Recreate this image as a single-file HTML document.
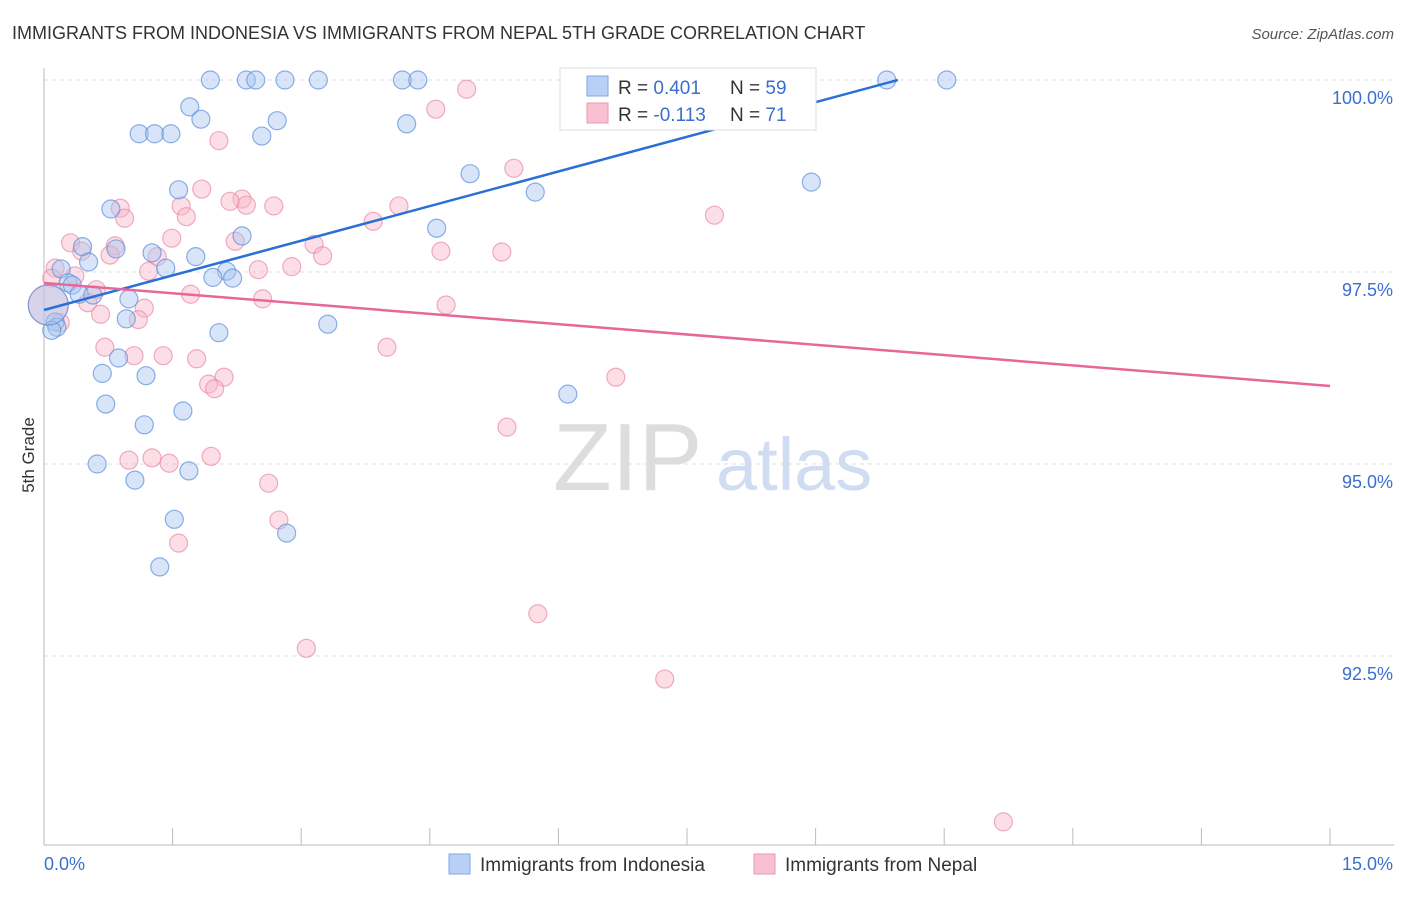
<!DOCTYPE html>
<html><head><meta charset="utf-8"><style>
body{margin:0;background:#fff;font-family:"Liberation Sans",sans-serif;}
svg text{font-family:"Liberation Sans",sans-serif;}
</style></head><body>
<svg id="c" width="1406" height="892">
<text x="12" y="39" font-size="18" fill="#333">IMMIGRANTS FROM INDONESIA VS IMMIGRANTS FROM NEPAL 5TH GRADE CORRELATION CHART</text>
<text x="1394" y="39" font-size="15" fill="#555" text-anchor="end" font-style="italic">Source: ZipAtlas.com</text>
<text x="34" y="455" font-size="17" fill="#333" text-anchor="middle" transform="rotate(-90 34 455)">5th Grade</text>
<g>
<text x="553" y="490" font-size="96" fill="#ddd" font-family="Liberation Serif,serif">ZIP</text>
<text x="716" y="490" font-size="74" fill="#cfdcf2">atlas</text>
</g>
<g id="grid"></g><g id="axes"></g><g id="pts"></g><g id="lines"></g>
<g>
<rect x="560" y="68" width="256" height="62" fill="#fff" stroke="#ddd"/>
<rect x="587" y="76" width="21" height="20" fill="#b8d0f5" stroke="#7fa6e6"/>
<rect x="587" y="103" width="21" height="20" fill="#f8c1d2" stroke="#ec97b2"/>
<text x="618" y="94" font-size="19" fill="#333">R = <tspan fill="#3a6fd0">0.401</tspan></text>
<text x="730" y="94" font-size="19" fill="#333">N = <tspan fill="#3a6fd0">59</tspan></text>
<text x="618" y="121" font-size="19" fill="#333">R = <tspan fill="#3a6fd0">-0.113</tspan></text>
<text x="730" y="121" font-size="19" fill="#333">N = <tspan fill="#3a6fd0">71</tspan></text>
</g>
<g>
<rect x="449" y="854" width="21" height="20" fill="#b8d0f5" stroke="#7fa6e6"/>
<text x="480" y="871" font-size="19" fill="#333">Immigrants from Indonesia</text>
<rect x="754" y="854" width="21" height="20" fill="#f8c1d2" stroke="#ec97b2"/>
<text x="785" y="871" font-size="19" fill="#333">Immigrants from Nepal</text>
</g>
</svg>
<script>
const yTicks=[100,97.5,95,92.5];
const yTickLabels=["100.0%","97.5%","95.0%","92.5%"];
const xTicks=[0,1.5,3,4.5,6,7.5,9,10.5,12,13.5,15];
const xEndLabels=["0.0%","15.0%"];
const indoX=[1.94,2.36,2.47,2.81,3.20,4.18,4.36,9.83,10.53,1.70,1.83,2.72,4.23,1.11,1.29,1.48,2.54,4.97,5.73,8.95,1.57,0.78,4.58,2.31,0.45,0.84,1.26,1.77,0.52,1.42,0.20,2.13,1.97,2.20,0.28,0.33,0.41,0.57,0.99,0.96,0.13,3.31,0.15,0.09,2.04,0.87,0.68,1.19,0.72,6.11,1.62,1.17,0.62,1.69,1.06,1.52,2.83,1.35,0.05];
const indoY=[100,100,100,100,100,100,100,100,100,99.65,99.49,99.47,99.43,99.30,99.30,99.30,99.27,98.78,98.54,98.67,98.57,98.32,98.07,97.97,97.83,97.80,97.75,97.70,97.63,97.55,97.54,97.51,97.43,97.42,97.36,97.33,97.21,97.20,97.15,96.89,96.85,96.82,96.78,96.74,96.71,96.38,96.18,96.15,95.78,95.91,95.69,95.51,95.00,94.91,94.79,94.28,94.10,93.66,97.07];
const nepX=[6.22,6.49,6.33,4.93,4.57,2.04,5.48,1.84,2.31,2.36,2.17,1.60,2.68,4.14,0.89,0.94,1.66,7.82,3.84,1.49,2.23,0.31,3.15,0.83,0.44,0.77,3.25,4.63,5.34,1.32,0.13,2.89,1.22,2.50,0.36,0.09,0.61,1.71,2.55,4.69,0.51,1.17,0.66,1.10,0.19,0.71,4.00,1.05,1.39,1.78,2.10,1.92,1.99,6.67,5.40,0.99,1.26,1.46,1.95,2.62,2.74,1.57,5.76,3.06,7.24,11.19,0.05];
const nepY=[100,100,99.69,99.88,99.62,99.21,98.85,98.58,98.45,98.37,98.42,98.36,98.36,98.36,98.33,98.20,98.22,98.24,98.16,97.94,97.90,97.88,97.86,97.84,97.77,97.72,97.71,97.77,97.76,97.70,97.55,97.57,97.51,97.53,97.45,97.42,97.27,97.21,97.15,97.07,97.10,97.03,96.95,96.88,96.84,96.52,96.52,96.41,96.41,96.37,96.13,96.04,95.98,96.13,95.48,95.05,95.08,95.01,95.10,94.75,94.27,93.97,93.05,92.60,92.20,90.34,97.07];
const indoTrend=[[0,97.005],[9.96,100]];
const nepTrend=[[0,97.357],[15,96.016]];
const NS="http://www.w3.org/2000/svg";
const X=v=>44+v*(1286/15), Y=v=>80+(100-v)*76.8;
function mk(tag,at,parent){const e=document.createElementNS(NS,tag);for(const k in at)e.setAttribute(k,at[k]);document.getElementById(parent).appendChild(e);return e;}
yTicks.forEach((t,i)=>{
 const l=mk('line',{x1:44,x2:1394,y1:Y(t),y2:Y(t),stroke:'#ddd','stroke-dasharray':'4,4'},'grid');
 
 
 const tx=mk('text',{x:1393,y:Y(t)+24,'font-size':18,fill:'#3a6fd0','text-anchor':'end'},'axes');
 tx.textContent=yTickLabels[i];
 
 
});
const ya=mk('line',{x1:44,x2:44,y1:68,y2:845,stroke:'#bbb'},'axes');


const xa=mk('line',{x1:44,x2:1394,y1:845,y2:845,stroke:'#bbb'},'axes');


xTicks.forEach(t=>{
 const l=mk('line',{x1:X(t),x2:X(t),y1:828,y2:845,stroke:'#bbb'},'axes');
 
 
});
const xl0=mk('text',{x:44,y:870,'font-size':18,fill:'#3a6fd0'},'axes');xl0.textContent=xEndLabels[0];


const xl1=mk('text',{x:1393,y:870,'font-size':18,fill:'#3a6fd0','text-anchor':'end'},'axes');xl1.textContent=xEndLabels[1];


function pts(xs,ys,fill,stroke,name){
 xs.forEach((x,i)=>{
  const big=(i===xs.length-1);
  const c=mk('circle',{cx:X(x),cy:Y(ys[i]),r:big?20:9,fill:fill,'fill-opacity':0.45,stroke:stroke,'stroke-opacity':0.7,'stroke-width':1.2},'pts');
  
  
 });
}
pts(nepX,nepY,'#f8b6ca','#e98aa8','point-nepal');
pts(indoX,indoY,'#a9c6f0','#5b8fdc','point-indonesia');
const l1=mk('line',{x1:X(indoTrend[0][0]),y1:Y(indoTrend[0][1]),x2:X(indoTrend[1][0]),y2:Y(indoTrend[1][1]),stroke:'#2a6fd6','stroke-width':2.5},'lines');


const l2=mk('line',{x1:X(nepTrend[0][0]),y1:Y(nepTrend[0][1]),x2:X(nepTrend[1][0]),y2:Y(nepTrend[1][1]),stroke:'#e8679a','stroke-width':2.5},'lines');


</script>
</body></html>
